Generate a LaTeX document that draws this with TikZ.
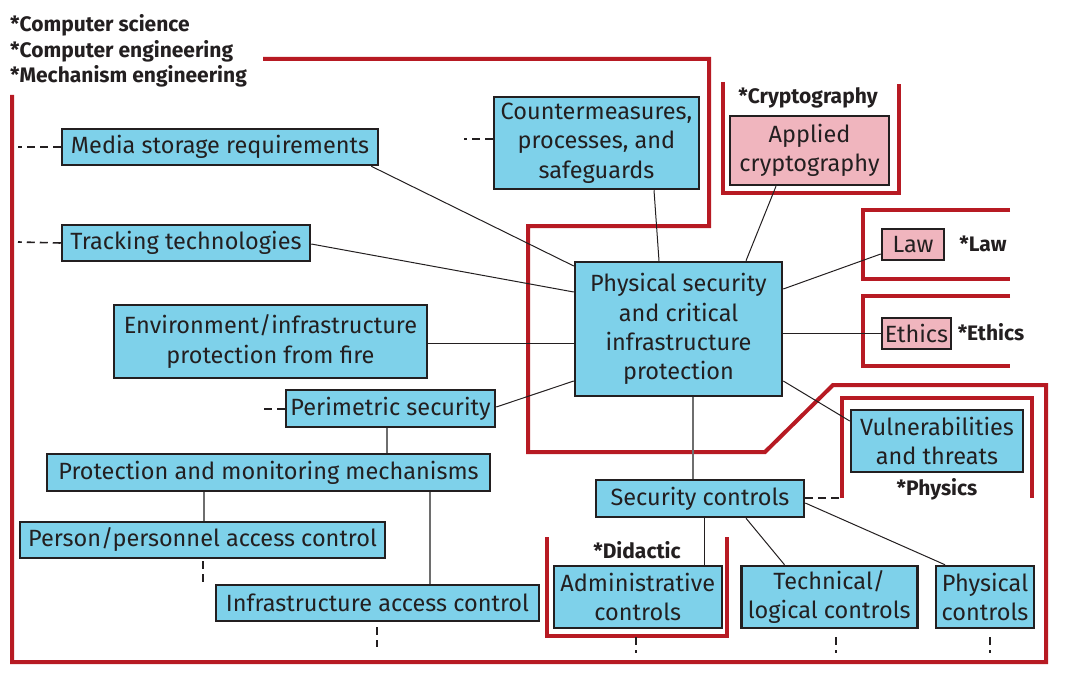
\documentclass[tikz,border=0pt]{standalone}
\usepackage{fontspec}
\setmainfont{Fira Sans}
\definecolor{boxblue}{RGB}{126,209,234}
\definecolor{boxpink}{RGB}{240,181,190}
\definecolor{redline}{RGB}{183,26,35}
\definecolor{inkc}{RGB}{35,31,32}
\definecolor{linkgray}{RGB}{110,110,110}
\newcommand{\boxfont}{\fontsize{23.5}{29.3}\selectfont}
\newcommand{\tagfont}{\fontsize{21}{25.5}\selectfont\bfseries}
\begin{document}
\begin{tikzpicture}[x=1pt,y=-1pt,
  box/.style={draw=inkc, line width=2.5pt, fill=boxblue, inner sep=0pt, align=center, text=inkc, font=\boxfont},
  pinkbox/.style={box, fill=boxpink},
  tag/.style={inner sep=0pt, text=inkc, font=\tagfont},
  link/.style={draw=inkc, line width=1pt},
  glink/.style={draw=linkgray, line width=1.3pt},
  dlink/.style={draw=inkc, line width=1.6pt, dash pattern=on 8pt off 5pt},
  redpath/.style={draw=redline, line width=4pt, line join=miter}
]
\useasboundingbox (0,0) rectangle (1073,674);

% red boundaries
\draw[redpath] (263,59) -- (709,59) -- (709,226) -- (528,226) -- (528,452) -- (765,452) -- (833,385) -- (1046,385) -- (1046,662) -- (12,662) -- (12,95);
\draw[redpath] (723,82) -- (723,193) -- (899,193) -- (899,84);
\draw[redpath] (1010,210) -- (863,210) -- (863,279) -- (1010,279);
\draw[redpath] (1010,296) -- (863,296) -- (863,366) -- (1010,366);
\draw[redpath] (842,498) -- (842,398) -- (1032,398) -- (1032,498);
\draw[redpath] (547,537) -- (547,636) -- (727,636) -- (727,537);

% tags
\node[tag, anchor=base west] (disc1) at (10,32) {*Computer science};
\node[tag, anchor=base west] (disc2) at (10,57.5) {*Computer engineering};
\node[tag, anchor=base west] (disc3) at (10,83) {*Mechanism engineering};
\node[tag] (tcrypto) at (808,98) {*Cryptography};
\node[tag] (tlaw) at (983,244) {*Law};
\node[tag] (tethics) at (991,332) {*Ethics};
\node[tag] (tphysics) at (937,489) {*Physics};
\node[tag] (tdidactic) at (637,550) {*Didactic};

% boxes
\node[box, minimum width=316pt, minimum height=36pt] (media) at (220,147) {Media storage requirements};
\node[box, minimum width=205pt, minimum height=92pt] (counter) at (596.5,143) {Countermeasures,\\processes, and\\safeguards};
\node[pinkbox, minimum width=159pt, minimum height=69pt] (crypto) at (809.5,150.5) {Applied\\cryptography};
\node[box, minimum width=248pt, minimum height=36pt] (tracking) at (186,243) {Tracking technologies};
\node[box, minimum width=207pt, minimum height=134pt] (central) at (678.5,329) {Physical security\\and critical\\infrastructure\\protection};
\node[pinkbox, minimum width=62pt, minimum height=31pt] (law) at (913,244.5) {Law};
\node[pinkbox, minimum width=69pt, minimum height=31pt] (ethics) at (916.5,333.5) {Ethics};
\node[box, minimum width=313pt, minimum height=73pt] (env) at (270.5,341.5) {Environment/infrastructure\\protection from fire};
\node[box, minimum width=209pt, minimum height=37pt] (perim) at (390.5,408.5) {Perimetric security};
\node[box, minimum width=172pt, minimum height=62pt] (vuln) at (937,441) {Vulnerabilities\\and threats};
\node[box, minimum width=443pt, minimum height=37pt] (protect) at (268.5,472.5) {Protection and monitoring mechanisms};
\node[box, minimum width=208pt, minimum height=37pt] (security) at (700,498.5) {Security controls};
\node[box, minimum width=365pt, minimum height=36pt] (person) at (202.5,540) {Person/personnel access control};
\node[box, minimum width=323pt, minimum height=36pt] (infra) at (377.5,603) {Infrastructure access control};
\node[box, minimum width=168pt, minimum height=62pt] (admin) at (637.75,597) {Administrative\\controls};
\node[box, minimum width=176pt, minimum height=62pt] (tech) at (829.25,597) {Technical/\\logical controls};
\node[box, minimum width=98pt, minimum height=62pt] (physical) at (985,597) {Physical\\controls};

% connectors to central
\draw[link] (media.south east) ++(-8,0) -- (central.north west |- 0,266) ;
\draw[link] (tracking.east |- 0,244) -- (central.west |- 0,292);
\draw[link] (env.east |- 0,343) -- (central.west |- 0,343);
\draw[link] (perim.east |- 0,407) -- (central.west |- 0,381);
\draw[link] (counter.south -| 654,0) -- (central.north -| 659,0);
\draw[link] (crypto.south -| 776,0) -- (central.north -| 746,0);
\draw[link] (central.east |- 0,289) -- (law.west |- 0,254);
\draw[link] (central.east |- 0,333) -- (ethics.west |- 0,333);
\draw[link] (central.east |- 0,381) -- (vuln.west |- 0,421);
\draw[glink] (central.south -| 693,0) -- (security.north -| 693,0);

% lower tree
\draw[glink] (perim.south -| 387,0) -- (protect.north -| 387,0);
\draw[glink] (protect.south -| 204,0) -- (person.north -| 204,0);
\draw[glink] (protect.south -| 430,0) -- (infra.north -| 430,0);
\draw[link] (security.south -| 704.5,0) -- (admin.north -| 704.5,0);
\draw[link] (security.south -| 746,0) -- (tech.north -| 784.5,0);
\draw[link] (security.east |- 0,503) -- (physical.north -| 945,0);

% dashed stubs
\coordinate (dmedia) at (18,147);
\coordinate (dtrack) at (18,242);
\coordinate (dcounter) at (464,139);
\coordinate (dperim) at (264,409);
\coordinate (dsec) at (842,498);
\coordinate (dperson) at (203,587);
\coordinate (dinfra) at (377,647);
\coordinate (dadmin) at (636,653);
\coordinate (dtech) at (836,653);
\coordinate (dphys) at (990,653);
\draw[dlink] (media.west) -- (dmedia);
\draw[dlink] (tracking.west) -- (dtrack);
\draw[dlink] (counter.west |- dcounter) -- (dcounter);
\draw[dlink] (perim.west |- dperim) -- (dperim);
\draw[dlink] (security.east |- dsec) -- (dsec);
\draw[dlink] (person.south -| dperson) ++(0,2) -- (dperson);
\draw[dlink] (dinfra) ++(0,-20) -- (dinfra);
\draw[dlink] (dadmin) ++(0,-16) -- (dadmin);
\draw[dlink] (dtech) ++(0,-16) -- (dtech);
\draw[dlink] (dphys) ++(0,-16) -- (dphys);
\end{tikzpicture}
\end{document}
